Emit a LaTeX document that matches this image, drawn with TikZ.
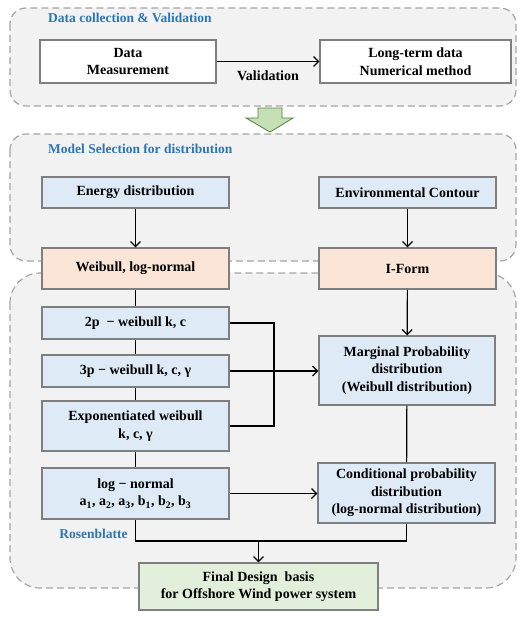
\documentclass[tikz,border=0pt]{standalone}
\usepackage{fontspec}
\setmainfont{Liberation Serif}
\usetikzlibrary{arrows.meta}

\definecolor{paneledge}{HTML}{A6A6A6}
\definecolor{panelfill}{HTML}{F2F2F2}
\definecolor{boxedge}{HTML}{7F7F7F}
\definecolor{bluefill}{HTML}{DEEBF7}
\definecolor{peachfill}{HTML}{FBE5D6}
\definecolor{greenfill}{HTML}{E2EFDA}
\definecolor{arrowfill}{HTML}{C5E0B4}
\definecolor{arrowedge}{HTML}{548235}
\definecolor{titleblue}{HTML}{2E75B6}

\tikzset{
    panel/.style={draw=paneledge, fill=panelfill, dash pattern=on 7pt off 4pt, line width=1.2pt},
    databox/.style={draw=boxedge, line width=1.3pt, align=center, inner sep=2pt,
        font=\bfseries\fontsize{14}{17.5}\selectfont},
    paneltitle/.style={anchor=west, inner sep=0pt, text=titleblue,
        font=\bfseries\fontsize{13.5}{17}\selectfont},
    link/.style={line width=1.2pt},
    flow/.style={link, -{Straight Barb[length=5pt, width=10pt]}}
}

\begin{document}
\begin{tikzpicture}[x=1pt, y=-1pt]
    \useasboundingbox (0,0) rectangle (529,618);

    \draw[panel, rounded corners=16pt] (10,8) rectangle (516,106);
    \draw[panel, rounded corners=16pt] (10,134) rectangle (516,261);
    \draw[panel, rounded corners=30pt] (10,273) rectangle (516,588);

    \node[paneltitle] (datatitle) at (48,18) {Data collection \& Validation};
    \node[paneltitle] (modeltitle) at (48,149) {Model Selection for distribution};

    \node[databox, fill=white, minimum width=176pt, minimum height=43pt] (meas) at (128,61.5) {Data\\Measurement};
    \node[databox, fill=white, minimum width=191pt, minimum height=43pt] (longterm) at (415.5,61.5) {Long-term data\\Numerical method};

    \draw[fill=arrowfill, draw=arrowedge, line width=0.8pt] (258,108) -- (282,108) -- (282,118) -- (293,118)
        -- (270,132) -- (246,118) -- (258,118) -- cycle;

    \node[databox, fill=bluefill, minimum width=187pt, minimum height=31pt] (energy) at (135.5,192.5) {Energy distribution};
    \node[databox, fill=bluefill, minimum width=177pt, minimum height=31pt] (envc) at (407.5,192.5) {Environmental Contour};

    \node[databox, fill=peachfill, minimum width=187pt, minimum height=41pt] (weib) at (135.5,268.5) {Weibull, log-normal};
    \node[databox, fill=peachfill, minimum width=177pt, minimum height=41pt] (iform) at (407.5,268.5) {I-Form};

    \node[databox, fill=bluefill, minimum width=187pt, minimum height=32pt] (twop) at (135.5,323) {2p \ − weibull k, c};
    \node[databox, fill=bluefill, minimum width=187pt, minimum height=32pt] (threep) at (135.5,371) {3p − weibull k, c, γ};
    \node[databox, fill=bluefill, minimum width=187pt, minimum height=50pt] (expw) at (135.5,426) {Exponentiated weibull\\k, c, γ};
    \node[databox, fill=bluefill, minimum width=187pt, minimum height=51pt] (logn) at (135.5,493.5)
        {log − normal\\a\textsubscript{1}, a\textsubscript{2}, a\textsubscript{3}, b\textsubscript{1}, b\textsubscript{2}, b\textsubscript{3}};

    \node[databox, fill=bluefill, minimum width=176pt, minimum height=69pt] (marg) at (407,370.5)
        {Marginal Probability\\distribution\\(Weibull distribution)};
    \node[databox, fill=bluefill, minimum width=177pt, minimum height=60pt] (cond) at (406.5,493)
        {Conditional probability\\distribution\\(log-normal distribution)};

    \node[databox, fill=greenfill, minimum width=239pt, minimum height=47pt] (final) at (258.5,586.5)
        {Final Design \ basis\\for Offshore Wind power system};

    \node[paneltitle, anchor=center] (rosen) at (93.5,534) {Rosenblatte};

    \coordinate (join) at (274,371);
    \coordinate (merge) at (258.5,541);

    \draw[flow] (meas) -- node[below=5pt, font=\bfseries\fontsize{14}{17}\selectfont] (valid) {Validation} (longterm);
    \draw[flow] (energy) -- (weib);
    \draw[flow] (envc) -- (iform);
    \draw[flow] (iform) -- (marg);

    \draw[link] (weib) -- (twop);
    \draw[link] (twop) -- (threep);
    \draw[link] (threep) -- (expw);
    \draw[link] (expw) -- (logn);
    \draw[link] (twop.east) -| (join);
    \draw[link] (expw.east) -| (join);
    \draw[flow] (threep.east) -- (threep.east -| marg.west);

    \draw[link] (marg) -- (cond);
    \draw[flow] (logn.east) -- (logn.east -| cond.west);

    \draw[link] (logn.south) |- (merge) -| (cond.south);
    \draw[flow] (merge) -- (final);
\end{tikzpicture}
\end{document}
